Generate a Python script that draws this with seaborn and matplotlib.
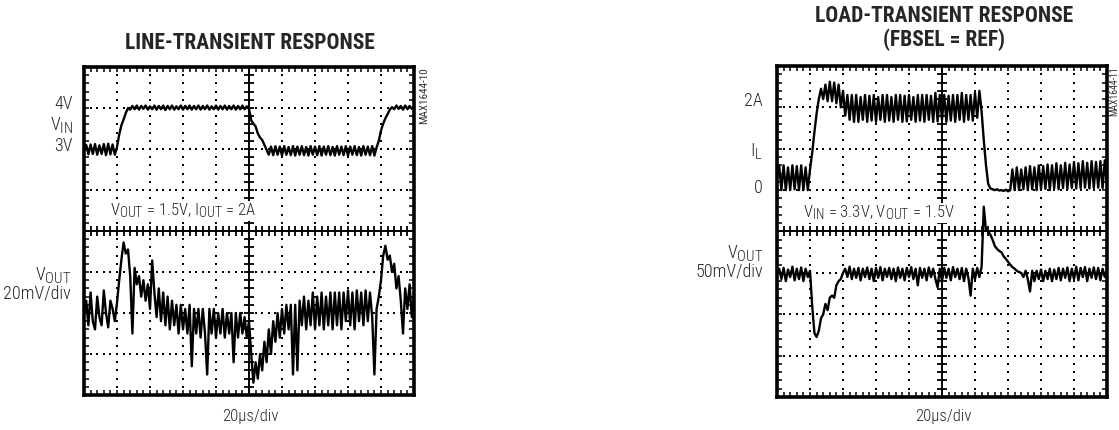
import matplotlib

matplotlib.use("Agg")
import matplotlib.pyplot as plt
import numpy as np
import pandas as pd
import seaborn as sns
from matplotlib import font_manager

try:
    import matplotlib._mathtext as _mt
    _mt.SHRINK_FACTOR = 0.82  # scope labels use nearly full-size subscripts
except Exception:
    pass

sns.set_style("white")


def pick_font(names):
    for n in names:
        try:
            font_manager.findfont(n, fallback_to_default=False)
            return n
        except Exception:
            pass
    return "DejaVu Sans"


NARROW = pick_font(["Roboto Condensed", "Archivo Narrow", "PT Sans Narrow", "Liberation Sans"])
plt.rcParams["font.family"] = [NARROW, "DejaVu Sans"]
plt.rcParams["mathtext.fontset"] = "custom"
plt.rcParams["mathtext.rm"] = NARROW
plt.rcParams["mathtext.default"] = "regular"

# scope samples, 15 per division; values in divisions from the centre line
SAMPLES_PER_DIV = 15

LINE_VIN = [
    1.95, 2.10, 1.87, 2.11, 1.88, 2.12, 1.86, 2.09, 1.88, 2.12, 1.85, 2.13, 1.87, 2.11, 1.86, 2.05,
    2.35, 2.58, 2.72, 2.88, 3.00, 2.96,
    3.05, 2.97, 3.06, 2.96, 3.05, 2.98, 3.06, 2.96, 3.04, 2.97,
    3.06, 2.96, 3.05, 2.97, 3.06, 2.95, 3.05, 2.97, 3.06, 2.96,
    3.04, 2.97, 3.06, 2.96, 3.05, 2.97, 3.06, 2.96, 3.05, 2.97,
    3.06, 2.96, 3.05, 2.97, 3.06, 2.96, 3.04, 2.97, 3.06, 2.96,
    3.05, 2.97, 3.06, 2.96, 3.05, 2.97, 3.06, 2.96, 3.05, 2.97,
    3.06, 2.97, 3.04,
    2.98, 2.70, 2.62, 2.55, 2.38, 2.28, 2.22, 2.10, 1.98,
    1.86, 2.06, 1.85, 2.07, 1.86, 2.06, 1.84, 2.07, 1.86, 2.05,
    1.85, 2.07, 1.84, 2.06, 1.86, 2.07, 1.85, 2.05, 1.84, 2.07,
    1.86, 2.06, 1.85, 2.07, 1.84, 2.06, 1.86, 2.07, 1.85, 2.05,
    1.84, 2.07, 1.86, 2.06, 1.85, 2.07, 1.84, 2.06, 1.86, 2.07,
    1.85, 2.05, 1.84, 2.07, 1.86, 2.06, 1.85, 2.07, 1.84, 2.04,
    2.20, 2.45, 2.62, 2.75, 2.85, 2.96, 3.02,
    2.97, 3.06, 2.98, 3.05, 2.96, 3.06, 2.97, 3.05, 2.98, 3.04,
]

LINE_VOUT = [
    -2.0, -1.7, -2.3, -1.5, -2.2, -2.4, -1.6, -2.1, -2.3, -1.45, -2.0, -2.35, -1.7, -1.9, -2.2, -1.75,
    -1.2, -0.7, -0.28, -0.55, -0.45, -1.1, -2.5, -0.9, -1.3, -1.1, -1.6, -1.2, -1.7, -1.3, -1.9,
    -0.72, -1.5, -2.1, -1.4, -2.2, -1.5, -2.3, -1.6, -2.4, -1.7, -2.3, -1.8, -2.5, -1.8, -2.4, -1.9, -2.5, -1.8,
    -3.3, -1.9, -2.5, -1.9, -2.6, -1.9, -2.5, -3.5, -1.9, -2.5, -1.9, -2.6, -2.0, -2.5, -1.9, -2.6,
    -2.0, -2.5, -2.0, -3.2, -2.0, -2.6, -2.0, -2.5, -2.1, -2.6, -2.2,
    -3.0, -3.7, -3.2, -3.6, -3.0, -3.4, -2.7, -3.2, -2.4, -3.0, -2.2, -2.7, -2.0, -2.6, -1.9, -2.5,
    -1.8, -2.4, -1.8, -3.5, -1.8, -3.4, -1.7,
    -2.3, -1.6, -2.4, -1.7, -2.3, -1.5, -2.4, -1.6, -2.3, -1.5, -2.4, -1.6, -2.3, -1.5, -2.4, -1.5,
    -2.3, -1.5, -2.4, -1.5, -2.2, -1.45, -2.3, -1.5, -2.4, -1.45, -2.2, -1.5, -2.3, -1.45, -2.2, -1.5, -2.1,
    -3.5, -1.9, -1.6, -1.2, -0.6, -0.36, -0.7, -0.6, -1.0, -0.8, -1.4, -1.1, -1.7, -2.5, -1.4, -1.9,
    -1.3, -2.1, -1.6,
]

LOAD_IL = [
    1.3, 1.6, 1.0, 1.6, 1.0, 1.55, 1.0, 1.6, 1.02, 1.58, 1.0, 1.6, 1.0, 1.55, 1.0, 1.5,
    1.9, 2.4, 2.85, 3.2, 3.45, 3.2, 3.55, 3.15, 3.62, 3.15, 3.6, 3.1, 3.55, 3.0, 3.4, 2.8, 3.3, 2.7, 3.3, 2.65,
    3.3, 2.65, 3.25, 2.7, 3.3, 2.65, 3.28, 2.68, 3.3, 2.65,
    3.25, 2.7, 3.3, 2.65, 3.3, 2.68, 3.25, 2.65, 3.3, 2.7,
    3.3, 2.65, 3.28, 2.66, 3.3, 2.7, 3.25, 2.65, 3.3, 2.68,
    3.3, 2.65, 3.3, 2.7, 3.28, 2.65, 3.35, 2.66, 3.3, 2.7,
    3.3, 2.65, 3.28, 2.68, 3.3, 2.65, 3.3, 2.7, 3.35, 2.65,
    3.3, 2.7, 3.3, 2.68, 3.35,
    2.75, 3.4, 2.9, 2.2, 1.6, 1.15, 1.04, 1.02, 1.0, 1.02, 0.99, 1.0, 0.98, 1.01, 0.97, 1.0,
    1.5, 1.0, 1.55, 1.0, 1.5, 1.02, 1.55, 1.0, 1.58, 1.02,
    1.55, 1.0, 1.6, 1.02, 1.58, 1.03, 1.62, 1.0, 1.6, 1.04,
    1.65, 1.02, 1.6, 1.05, 1.66, 1.03, 1.62, 1.05, 1.68, 1.04,
    1.65, 1.05, 1.7, 1.06, 1.66, 1.04, 1.7, 1.05, 1.68, 1.06,
    1.7, 1.05, 1.72, 1.1,
]

LOAD_VOUT = [
    -1.0, -0.9, -1.15, -0.88, -1.2, -0.92, -1.1, -0.85, -1.18, -0.9, -1.15, -0.87, -1.2, -0.9, -1.1, -0.95,
    -1.8, -2.45, -2.55, -2.4, -2.1, -2.0, -1.75, -1.9, -1.6, -1.55, -1.6, -1.3, -1.2, -1.15, -1.0,
    -0.9, -1.1, -0.85, -1.15, -0.9, -1.12, -0.88, -1.18, -0.9, -1.1,
    -0.87, -1.15, -0.9, -1.2, -0.88, -1.12, -0.86, -1.18, -0.9, -1.1,
    -0.88, -1.15, -0.9, -1.2, -0.87, -1.12, -0.9, -1.18, -0.88, -1.1,
    -0.86, -1.15, -0.9, -1.3, -0.88, -1.12, -0.9, -1.18, -0.87, -1.1,
    -0.9, -1.15, -1.35, -0.9, -1.2, -0.88, -1.12, -0.9, -1.18, -0.86,
    -1.1, -0.9, -1.15, -0.88, -1.2, -0.9, -1.12, -1.55, -0.9, -1.15,
    -0.88, -1.1, -0.85,
    0.6, 0.02, 0.0, -0.08, -0.2, -0.35, -0.42, -0.47, -0.5, -0.6, -0.66, -0.73, -0.8, -0.86, -0.9,
    -0.95, -0.98, -1.0, -1.1, -0.95, -1.15, -1.45, -0.95, -1.2, -0.95, -1.15,
    -0.92, -1.2, -0.95, -1.15, -0.9, -1.2, -0.92, -1.15, -0.88, -1.18, -0.9, -1.12, -0.87, -1.2, -0.9,
    -1.15, -0.85, -1.18, -0.88, -1.1, -0.86, -1.2, -0.9, -1.12, -0.87, -1.15, -0.88, -1.18, -0.9, -1.1, -0.95,
]

W, H = 1119, 430


def px_x(x):
    return x / W


def px_y(y):
    return 1 - y / H


def trace_frame(values):
    return pd.DataFrame({"div": np.arange(len(values)) / SAMPLES_PER_DIV, "v": values})


def draw_screen(ax):
    ax.set_xlim(0, 10)
    ax.set_ylim(-4, 4)
    xd = np.arange(0, 10.01, 0.2)
    yd = np.arange(-4, 4.01, 0.2)
    for gx in [1, 2, 3, 4, 6, 7, 8, 9]:
        ax.scatter([gx] * len(yd), yd, s=2.5, c="k", marker="s", lw=0, zorder=1)
    for gy in [-3, -2, -1, 1, 2, 3]:
        ax.scatter(xd, [gy] * len(xd), s=2.5, c="k", marker="s", lw=0, zorder=1)
    ax.axvline(5, color="k", lw=1.4, zorder=1)
    ax.axhline(0, color="k", lw=1.4, zorder=1)
    ax.plot([5] * len(yd), yd, ls="none", marker="_", ms=7, mew=1.3, color="k", zorder=1)
    ax.plot(xd, [0] * len(xd), ls="none", marker="|", ms=7, mew=1.3, color="k", zorder=1)
    ax.set_xticks(range(0, 11))
    ax.set_yticks(range(-4, 5))
    ax.set_xticks(xd, minor=True)
    ax.set_yticks(yd, minor=True)
    ax.tick_params(which="both", direction="in", top=True, right=True, bottom=True, left=True,
                   labelbottom=False, labelleft=False, length=3.5, width=1.1, color="k")
    for s in ax.spines.values():
        s.set_linewidth(2.6)
        s.set_color("k")


def draw_trace(ax, values):
    sns.lineplot(data=trace_frame(values), x="div", y="v", estimator=None, sort=False,
                 color="k", lw=1.7, ax=ax, zorder=3)


fig = plt.figure(figsize=(W / 100, H / 100), dpi=100)
ax_l = fig.add_axes([px_x(84), px_y(395), px_x(330), 328 / H])
ax_r = fig.add_axes([px_x(777), px_y(397), px_x(330), 331 / H])

for ax in (ax_l, ax_r):
    draw_screen(ax)
draw_trace(ax_l, LINE_VIN)
draw_trace(ax_l, LINE_VOUT)
draw_trace(ax_r, LOAD_IL)
draw_trace(ax_r, LOAD_VOUT)
for ax in (ax_l, ax_r):
    ax.set_xlim(0, 10)
    ax.set_ylim(-4, 4)
    ax.set_xlabel("")
    ax.set_ylabel("")

title_kw = dict(ha="center", va="center", fontsize=15.5, fontweight="bold")
fig.text(px_x(250), px_y(43), "LINE-TRANSIENT RESPONSE", **title_kw)
fig.text(px_x(944), px_y(16), "LOAD-TRANSIENT RESPONSE", **title_kw)
fig.text(px_x(944), px_y(40), "(FBSEL = REF)", **title_kw)

lab = dict(ha="right", va="center", fontsize=13, fontweight="light")
fig.text(px_x(73), px_y(104), "4V", **lab)
fig.text(px_x(73), px_y(125), "$V_{IN}$", **lab)
fig.text(px_x(73), px_y(146), "3V", **lab)
fig.text(px_x(71), px_y(275), "$V_{OUT}$", **lab)
fig.text(px_x(71), px_y(293), "20mV/div", **lab)

fig.text(px_x(763), px_y(101), "2A", **lab)
fig.text(px_x(763), px_y(151), "$I_{L}$", **lab)
fig.text(px_x(763), px_y(188), "0", **lab)
fig.text(px_x(763), px_y(253), "$V_{OUT}$", **lab)
fig.text(px_x(763), px_y(271), "50mV/div", **lab)

inner = dict(ha="left", va="center", fontsize=12, fontweight="light",
             bbox=dict(facecolor="white", edgecolor="none", pad=0.5), zorder=5)
fig.text(px_x(110), px_y(211), "$V_{OUT}$ = 1.5V, $I_{OUT}$ = 2A", **inner)
fig.text(px_x(803), px_y(213), "$V_{IN}$ = 3.3V, $V_{OUT}$ = 1.5V", **inner)

bottom = dict(ha="center", va="center", fontsize=12, fontweight="light")
fig.text(px_x(250), px_y(416), "20µs/div", **bottom)
fig.text(px_x(943), px_y(416), "20µs/div", **bottom)

fig.text(px_x(424), px_y(67), "MAX1644-10", rotation=90, ha="center", va="top", fontsize=8, color="#333333")
fig.text(px_x(1114), px_y(66), "MAX1644-11", rotation=90, ha="center", va="top", fontsize=7, color="#333333")

fig.savefig("out.png", dpi=100, facecolor="white")
